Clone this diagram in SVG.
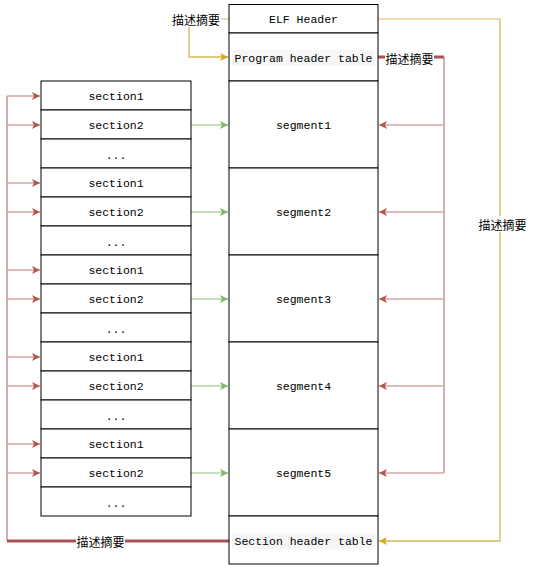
<svg xmlns="http://www.w3.org/2000/svg" width="543" height="579" viewBox="0 0 543 579">
<style>
.box{fill:#ffffff;stroke:#000000;stroke-width:1}
.t{font-family:"Liberation Mono","Courier New",monospace;font-size:11.5px;fill:#000;text-anchor:middle;dominant-baseline:central}
.tb{fill:#f6f6f6}
.cn{font-family:"Noto Sans CJK SC","Noto Sans",sans-serif;font-size:12px;fill:#000;text-anchor:middle;dominant-baseline:central}
.red{fill:none;stroke:#d4a4a2;stroke-width:1.5}
.redv{fill:none;stroke:#b87878;stroke-width:1.2}
.redt{fill:none;stroke:#a85252;stroke-width:3}
.grn{fill:none;stroke:#b5d3a3;stroke-width:1.5}
.yel{fill:none;stroke:#d6b656;stroke-width:1.3}
.yel2{fill:none;stroke:#e8cf98;stroke-width:1.5}
</style>
<defs>
<marker id="ar" markerWidth="10" markerHeight="10" refX="9" refY="5" orient="auto" markerUnits="userSpaceOnUse"><path d="M1,1 L9,5 L1,9 L3,5 Z" fill="#b85450"/></marker>
<marker id="ag" markerWidth="10" markerHeight="10" refX="9" refY="5" orient="auto" markerUnits="userSpaceOnUse"><path d="M1,1 L9,5 L1,9 L3,5 Z" fill="#82b366"/></marker>
<marker id="ay" markerWidth="10" markerHeight="10" refX="9" refY="5" orient="auto" markerUnits="userSpaceOnUse"><path d="M1,1 L9,5 L1,9 L3,5 Z" fill="#d6a520"/></marker>
</defs>

<g id="connectors">
<!-- left side red -->
<path class="redv" d="M7,541 L7,96"/>
<path class="redt" d="M229,541 L7,541"/>
<path class="red" d="M7,96 L40,96" marker-end="url(#ar)"/>
<path class="red" d="M7,125 L40,125" marker-end="url(#ar)"/>
<path class="red" d="M7,183 L40,183" marker-end="url(#ar)"/>
<path class="red" d="M7,212 L40,212" marker-end="url(#ar)"/>
<path class="red" d="M7,270 L40,270" marker-end="url(#ar)"/>
<path class="red" d="M7,299 L40,299" marker-end="url(#ar)"/>
<path class="red" d="M7,357 L40,357" marker-end="url(#ar)"/>
<path class="red" d="M7,386 L40,386" marker-end="url(#ar)"/>
<path class="red" d="M7,444 L40,444" marker-end="url(#ar)"/>
<path class="red" d="M7,473 L40,473" marker-end="url(#ar)"/>
<!-- green -->
<path class="grn" d="M191,125 L228,125" marker-end="url(#ag)"/>
<path class="grn" d="M191,212 L228,212" marker-end="url(#ag)"/>
<path class="grn" d="M191,299 L228,299" marker-end="url(#ag)"/>
<path class="grn" d="M191,386 L228,386" marker-end="url(#ag)"/>
<path class="grn" d="M191,473 L228,473" marker-end="url(#ag)"/>
<!-- right side red -->
<path class="redt" d="M378,57 L444,57"/>
<path class="redv" d="M444,57 L444,473"/>
<path class="red" d="M444,125 L379,125" marker-end="url(#ar)"/>
<path class="red" d="M444,212 L379,212" marker-end="url(#ar)"/>
<path class="red" d="M444,299 L379,299" marker-end="url(#ar)"/>
<path class="red" d="M444,386 L379,386" marker-end="url(#ar)"/>
<path class="red" d="M444,473 L379,473" marker-end="url(#ar)"/>
<!-- yellow -->
<path class="yel2" d="M378,19 L500,19"/>
<path class="yel" d="M500,19 L500,541 L379,541" marker-end="url(#ay)"/>
<path class="yel2" d="M210,19 L229,19"/>
<path class="yel" d="M189,25 L189,57 L228,57" marker-end="url(#ay)"/>
<!-- labels -->
<rect x="170" y="11" width="52" height="16" fill="#fff"/>
<text class="cn" x="196" y="19">描述摘要</text>
<rect x="385" y="50" width="49" height="16" fill="#fff"/>
<text class="cn" x="409.5" y="58">描述摘要</text>
<rect x="478" y="216" width="49" height="16" fill="#fff"/>
<text class="cn" x="502.5" y="224">描述摘要</text>
<rect x="76" y="533" width="49" height="16" fill="#fff"/>
<text class="cn" x="100.5" y="541">描述摘要</text>
</g>

<g id="elf-header"><rect class="box" x="229" y="4.5" width="149" height="28.5"/><text class="t" x="303.5" y="19">ELF Header</text></g>
<g id="program-header-table"><rect class="box" x="229" y="33" width="149" height="48"/><rect class="tb" x="232" y="50" width="143" height="16"/><text class="t" x="303.5" y="58">Program header table</text></g>
<g id="segment1"><rect class="box" x="229" y="81" width="149" height="87"/><text class="t" x="303.5" y="125">segment1</text></g>
<g id="segment2"><rect class="box" x="229" y="168" width="149" height="87"/><text class="t" x="303.5" y="212">segment2</text></g>
<g id="segment3"><rect class="box" x="229" y="255" width="149" height="87"/><text class="t" x="303.5" y="299">segment3</text></g>
<g id="segment4"><rect class="box" x="229" y="342" width="149" height="87"/><text class="t" x="303.5" y="386">segment4</text></g>
<g id="segment5"><rect class="box" x="229" y="429" width="149" height="87"/><text class="t" x="303.5" y="473">segment5</text></g>
<g id="section-header-table"><rect class="box" x="229" y="516" width="149" height="48"/><rect class="tb" x="232" y="533" width="143" height="16"/><text class="t" x="303.5" y="541">Section header table</text></g>

<g id="g1-section1"><rect class="box" x="41" y="81" width="150" height="29"/><text class="t" x="116" y="96">section1</text></g>
<g id="g1-section2"><rect class="box" x="41" y="110" width="150" height="29"/><text class="t" x="116" y="125">section2</text></g>
<g id="g1-dots"><rect class="box" x="41" y="139" width="150" height="29"/><text class="t" x="116" y="155">...</text></g>
<g id="g2-section1"><rect class="box" x="41" y="168" width="150" height="29"/><text class="t" x="116" y="183">section1</text></g>
<g id="g2-section2"><rect class="box" x="41" y="197" width="150" height="29"/><text class="t" x="116" y="212">section2</text></g>
<g id="g2-dots"><rect class="box" x="41" y="226" width="150" height="29"/><text class="t" x="116" y="242">...</text></g>
<g id="g3-section1"><rect class="box" x="41" y="255" width="150" height="29"/><text class="t" x="116" y="270">section1</text></g>
<g id="g3-section2"><rect class="box" x="41" y="284" width="150" height="29"/><text class="t" x="116" y="299">section2</text></g>
<g id="g3-dots"><rect class="box" x="41" y="313" width="150" height="29"/><text class="t" x="116" y="329">...</text></g>
<g id="g4-section1"><rect class="box" x="41" y="342" width="150" height="29"/><text class="t" x="116" y="357">section1</text></g>
<g id="g4-section2"><rect class="box" x="41" y="371" width="150" height="29"/><text class="t" x="116" y="386">section2</text></g>
<g id="g4-dots"><rect class="box" x="41" y="400" width="150" height="29"/><text class="t" x="116" y="416">...</text></g>
<g id="g5-section1"><rect class="box" x="41" y="429" width="150" height="29"/><text class="t" x="116" y="444">section1</text></g>
<g id="g5-section2"><rect class="box" x="41" y="458" width="150" height="29"/><text class="t" x="116" y="473">section2</text></g>
<g id="g5-dots"><rect class="box" x="41" y="487" width="150" height="29"/><text class="t" x="116" y="503">...</text></g>
</svg>
